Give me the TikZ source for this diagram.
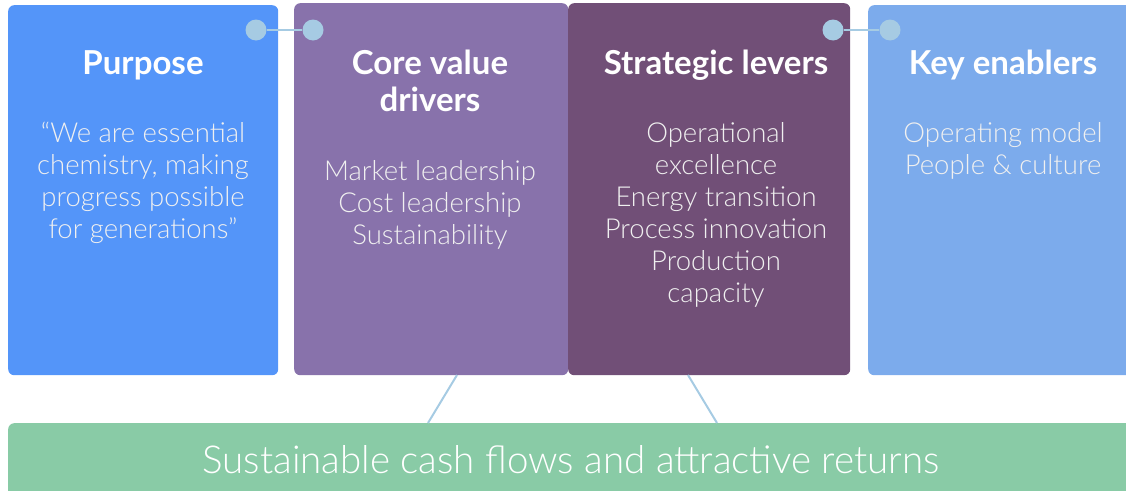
\documentclass[tikz,border=0pt]{standalone}
\usepackage{fontspec}
\setmainfont{Lato}[UprightFont=* Light, BoldFont=* Bold]
\usepackage{tikz}
\usetikzlibrary{positioning, calc}

\definecolor{purposeblue}{RGB}{84,149,249}
\definecolor{drivepurple}{RGB}{136,114,171}
\definecolor{leverplum}{RGB}{113,79,119}
\definecolor{enableblue}{RGB}{124,171,236}
\definecolor{returngreen}{RGB}{137,203,166}
\definecolor{dotblue}{RGB}{166,203,227}

\begin{document}
\begin{tikzpicture}[x=1pt, y=-1pt,
    panel/.style={rounded corners=6pt, anchor=north west, inner sep=0pt},
    heading/.style={text=white, anchor=base, font=\fontsize{33}{38}\selectfont\bfseries},
    body/.style={text=white!94!black, anchor=base, font=\fontsize{27.5}{32}\selectfont},
    dot/.style={circle, fill=dotblue, minimum size=21pt, inner sep=0pt},
    link/.style={draw=dotblue, line width=2pt}]

    % Canvas
    \useasboundingbox (0,0) rectangle (1126,490);
    \clip (0,0) rectangle (1126,490);

    % Panels
    \node[panel, fill=purposeblue, minimum width=270pt, minimum height=370pt] (purpose) at (8,5) {};
    \node[panel, fill=drivepurple, minimum width=274pt, minimum height=372pt] (drivers) at (294,3) {};
    \node[panel, fill=leverplum, minimum width=282pt, minimum height=372pt] (levers) at (568,3) {};
    \node[panel, fill=enableblue, minimum width=290pt, minimum height=370pt] (enablers) at (868,5) {};

    % Bottom bar
    \node[panel, fill=returngreen, minimum width=1140pt, minimum height=90pt] (returns) at (8,423) {};
    \node[text=white, anchor=base, font=\fontsize{38.5}{44}\selectfont] (returns-text) at (571,473)
        {Sustainable cash flows and attractive returns};

    % Headings
    \node[heading] (purpose-head) at (143,74) {Purpose};
    \node[heading] (drivers-head) at (430,74) {Core value};
    \node[heading] (drivers-head2) at (430,111) {drivers};
    \node[heading] (levers-head) at (716,74) {Strategic levers};
    \node[heading] (enablers-head) at (1003,74) {Key enablers};

    % Body lines
    \foreach \t [count=\i] in {“We are essential, {chemistry, making}, progress possible, for generations”}
        \node[body] (purpose-\i) at (143,{142+32*(\i-1)}) {\t};
    \foreach \t [count=\i] in {Market leadership, Cost leadership, Sustainability}
        \node[body] (drivers-\i) at (430,{180+32*(\i-1)}) {\t};
    \foreach \t [count=\i] in {Operational, excellence, Energy transition, Process innovation, Production, capacity}
        \node[body] (levers-\i) at (716,{142+32*(\i-1)}) {\t};
    \foreach \t [count=\i] in {Operating model, People \& culture}
        \node[body] (enablers-\i) at (1003,{142+32*(\i-1)}) {\t};

    % Connectors to the bottom bar
    \coordinate (drivers-foot) at (457,375);
    \coordinate (levers-foot) at (688,375);
    \coordinate (returns-left) at (428,423);
    \coordinate (returns-right) at (717,423);
    \draw[link] (drivers-foot) -- (returns-left);
    \draw[link] (levers-foot) -- (returns-right);

    % Dots linking neighbouring panels
    \node[dot] (dot-a) at (256,30) {};
    \node[dot] (dot-b) at (313,30) {};
    \node[dot] (dot-c) at (833,30) {};
    \node[dot] (dot-d) at (890,30) {};
    \draw[link] (dot-a) -- (dot-b);
    \draw[link] (dot-c) -- (dot-d);

\end{tikzpicture}
\end{document}
